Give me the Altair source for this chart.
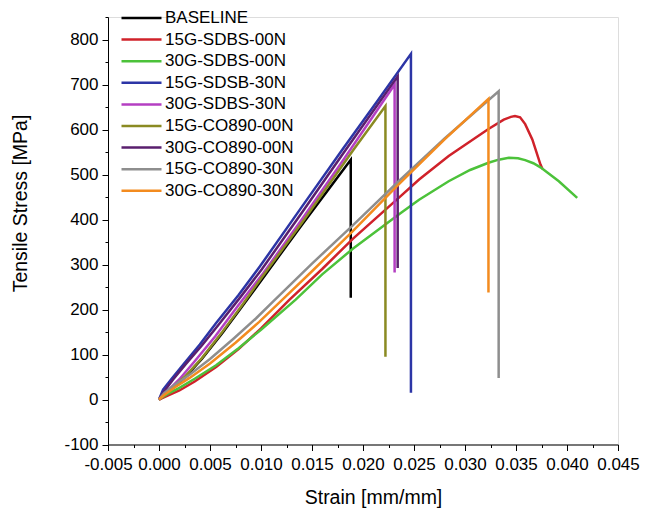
import altair as alt
import pandas as pd

series_names = ["BASELINE", "15G-SDBS-00N", "30G-SDBS-00N", "15G-SDSB-30N", "30G-SDBS-30N",
                "15G-CO890-00N", "30G-CO890-00N", "15G-CO890-30N", "30G-CO890-30N"]
series_colors = ["#000000", "#d0222a", "#4cc23a", "#2c35a6", "#b43fc2",
                 "#8a8a22", "#5a1f6e", "#8e8e8e", "#f38b1f"]
series_widths = [2.5, 2.5, 3.3, 2.5, 2.5, 2.5, 2.5, 2.5, 2.5]

baseline_x = [0, 0.001, 0.0025, 0.0042, 0.0062, 0.008, 0.0102, 0.014, 0.0188, 0.0188]
baseline_y = [0, 18, 48, 90, 147, 202, 270, 388, 533, 226]

sdbs15_00_x = [0, 0.0008, 0.002, 0.0035, 0.0056, 0.0078, 0.01, 0.0128, 0.016, 0.019, 0.0235,
               0.0255, 0.0284, 0.0323, 0.0338, 0.0345, 0.0349, 0.0354, 0.0359, 0.0366, 0.0374, 0.0376]
sdbs15_00_y = [0, 8, 20, 40, 72, 112, 158, 222, 290, 357, 448,
               489, 541, 601, 622, 628, 630, 627, 612, 578, 522, 512]

sdbs30_00_x = [0, 0.0008, 0.002, 0.0035, 0.0056, 0.0078, 0.01, 0.0134, 0.016, 0.019, 0.0235,
               0.0255, 0.0284, 0.0305, 0.0323, 0.0333, 0.0343, 0.0352, 0.0359, 0.0367, 0.0374, 0.0392, 0.041]
sdbs30_00_y = [0, 12, 26, 46, 76, 114, 155, 222, 278, 335, 411,
               444, 485, 510, 526, 533, 537, 536, 532, 525, 516, 485, 448]

sdsb15_30_x = [0, 0.0004, 0.0012, 0.0024, 0.004, 0.0056, 0.0078, 0.0099, 0.014, 0.018, 0.0215, 0.0247, 0.0247]
sdsb15_30_y = [0, 22, 45, 78, 122, 170, 232, 296, 428, 556, 666, 768, 15]

sdbs30_30_x = [0, 0.0008, 0.002, 0.0035, 0.0055, 0.0078, 0.0102, 0.014, 0.018, 0.0231, 0.0231]
sdbs30_30_y = [0, 18, 45, 85, 140, 210, 280, 400, 530, 700, 282]

co15_00_x = [0, 0.001, 0.0025, 0.0042, 0.0062, 0.008, 0.0102, 0.014, 0.0191, 0.0222, 0.0222]
co15_00_y = [0, 20, 50, 92, 150, 205, 275, 392, 556, 652, 95]

co30_00_x = [0, 0.0005, 0.0014, 0.0026, 0.0042, 0.0058, 0.008, 0.0101, 0.014, 0.018, 0.0234, 0.0234]
co30_00_y = [0, 18, 45, 78, 120, 165, 228, 290, 415, 545, 718, 292]

co15_30_x = [0, 0.0005, 0.0015, 0.003, 0.005, 0.0073, 0.0095, 0.0112, 0.015, 0.019, 0.0235, 0.028, 0.0333, 0.0333]
co15_30_y = [0, 14, 32, 55, 90, 135, 180, 218, 302, 387, 485, 580, 685, 48]

co30_30_x = [0, 0.0005, 0.0015, 0.003, 0.005, 0.0075, 0.0098, 0.0121, 0.015, 0.019, 0.0235, 0.028, 0.0323, 0.0323]
co30_30_y = [0, 10, 26, 48, 80, 126, 172, 222, 285, 374, 478, 578, 668, 238]

xs = [baseline_x, sdbs15_00_x, sdbs30_00_x, sdsb15_30_x, sdbs30_30_x, co15_00_x, co30_00_x, co15_30_x, co30_30_x]
ys = [baseline_y, sdbs15_00_y, sdbs30_00_y, sdsb15_30_y, sdbs30_30_y, co15_00_y, co30_00_y, co15_30_y, co30_30_y]

x_ticks = [round(-0.005 + 0.0025 * i, 4) for i in range(21)]
y_ticks = list(range(-100, 851, 50))

rows = []
for name, sx, sy in zip(series_names, xs, ys):
    for i, (a, b) in enumerate(zip(sx, sy)):
        rows.append({"series": name, "strain": a, "stress": b, "idx": i})
df = pd.DataFrame(rows)

FONT = "Liberation Sans"
X_MAJOR = "abs(datum.value/0.005 - round(datum.value/0.005)) < 0.01"

chart = alt.Chart(df).mark_line(clip=True).encode(
    x=alt.X("strain:Q",
            scale=alt.Scale(domain=[-0.005, 0.045], nice=False, zero=False),
            axis=alt.Axis(values=x_ticks, format=".3f", title="Strain [mm/mm]",
                          labelExpr=X_MAJOR + " ? replace(datum.label, '\u2212', '-') : ''",
                          tickSize={"condition": {"test": X_MAJOR, "value": 6}, "value": 3},
                          labelOverlap=False, labelFlush=False,
                          grid=False, domainColor="black", tickColor="black",
                          labelFont=FONT, labelFontSize=17, labelColor="black", labelPadding=6,
                          titleFont=FONT, titleFontSize=19.5, titleFontWeight="normal", titleColor="black",
                          titleX=265, titleY=53, titleBaseline="middle")),
    y=alt.Y("stress:Q",
            scale=alt.Scale(domain=[-100, 850], nice=False, zero=False),
            axis=alt.Axis(values=y_ticks, format="d", title="Tensile Stress [MPa]",
                          labelExpr="datum.value % 100 == 0 && datum.value <= 800 ? replace(datum.label, '\u2212', '-') : ''",
                          tickSize={"condition": {"test": "datum.value % 100 == 0", "value": 6}, "value": 3},
                          labelOverlap=False, labelFlush=False,
                          grid=False, domainColor="black", tickColor="black",
                          labelFont=FONT, labelFontSize=17, labelColor="black", labelPadding=4,
                          titleFont=FONT, titleFontSize=19.5, titleFontWeight="normal", titleColor="black",
                          titleX=-88, titleY=186, titleBaseline="middle")),
    color=alt.Color("series:N",
                    scale=alt.Scale(domain=series_names, range=series_colors),
                    legend=alt.Legend(title=None, orient="none", legendX=12, legendY=-8,
                                      symbolType="stroke", symbolSize=1600, symbolStrokeWidth=3,
                                      clipHeight=18, rowPadding=3.6, padding=0, labelOffset=2,
                                      labelFont=FONT, labelFontSize=17, labelColor="black")),
    strokeWidth=alt.StrokeWidth("series:N",
                                scale=alt.Scale(domain=series_names, range=series_widths),
                                legend=None),
    order=alt.Order("idx:Q"),
).properties(
    width=510, height=427.5,
    padding={"left": 108, "top": 17, "right": 31, "bottom": 65.5},
    autosize="none",
).configure_view(stroke=None).configure(background="white")

chart.save("out.html", embed_options={"renderer": "svg", "actions": False})
